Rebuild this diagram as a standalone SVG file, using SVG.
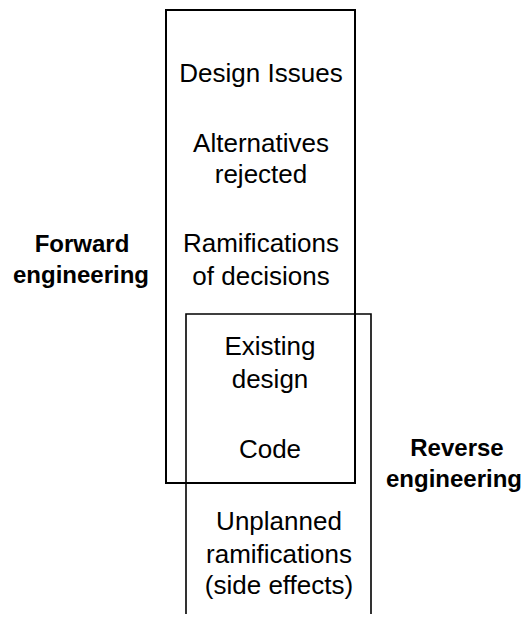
<svg xmlns="http://www.w3.org/2000/svg" width="525" height="618" viewBox="0 0 525 618">
  <style>
    .frame { fill: none; stroke: #000; stroke-width: 2; }
    .frame-thin { fill: none; stroke: #000; stroke-width: 1.6; }
    .item { font-family: "Liberation Sans", Arial, sans-serif; font-size: 26px; fill: #000; text-anchor: middle; }
    .label { font-family: "Liberation Sans", Arial, sans-serif; font-size: 24px; font-weight: bold; fill: #000; text-anchor: middle; }
  </style>
  <rect width="525" height="618" fill="#fff"/>

  <!-- Forward engineering: closed box of design knowledge -->
  <g id="forward-box">
    <rect class="frame" x="166" y="10" width="189" height="473"/>
    <text class="item" x="261" y="82">Design Issues</text>
    <text class="item" x="261" y="152">Alternatives</text>
    <text class="item" x="261" y="183">rejected</text>
    <text class="item" x="261" y="252">Ramifications</text>
    <text class="item" x="261" y="285">of decisions</text>
  </g>

  <!-- Reverse engineering: open-ended box overlapping the forward box -->
  <g id="reverse-box">
    <path class="frame-thin" d="M186,614 V314 H371 V614"/>
    <text class="item" x="270" y="355">Existing</text>
    <text class="item" x="270" y="388">design</text>
    <text class="item" x="270" y="458">Code</text>
    <text class="item" x="279" y="530">Unplanned</text>
    <text class="item" x="279" y="563">ramifications</text>
    <text class="item" x="279" y="594">(side effects)</text>
  </g>

  <g id="forward-label">
    <text class="label" x="82" y="252">Forward</text>
    <text class="label" x="81" y="283">engineering</text>
  </g>

  <g id="reverse-label">
    <text class="label" x="457" y="456">Reverse</text>
    <text class="label" x="454" y="487">engineering</text>
  </g>

  <g id="connectors"/>
</svg>
